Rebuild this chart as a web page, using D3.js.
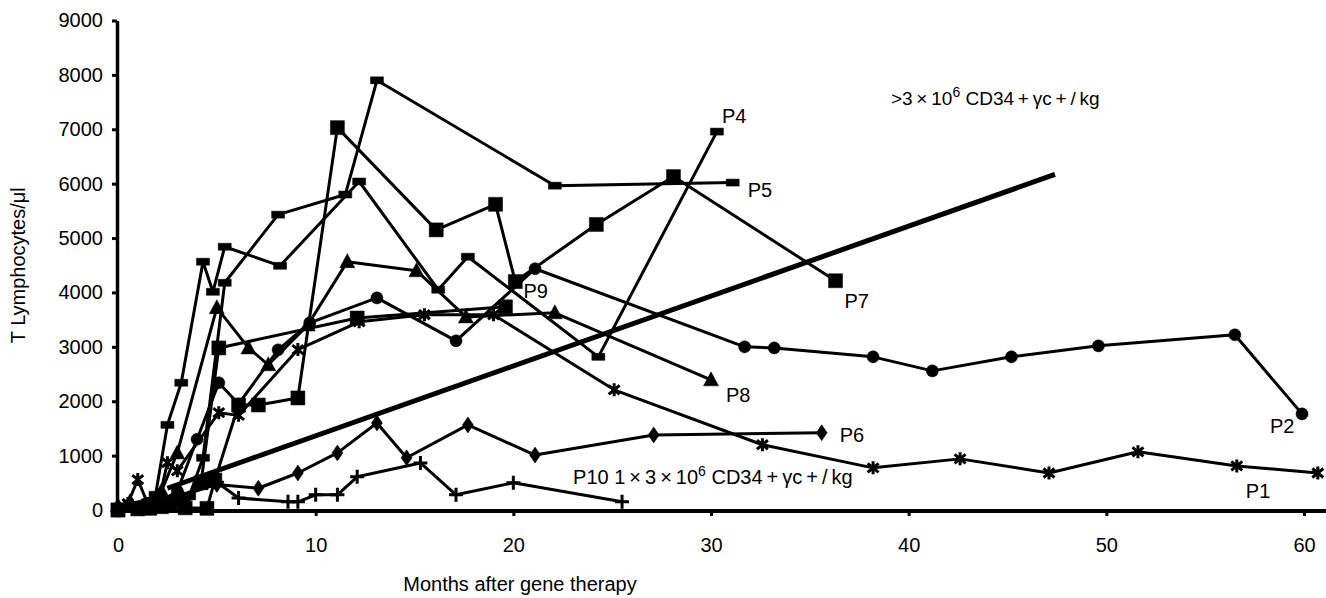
<!DOCTYPE html>
<html lang="en">
<head>
<meta charset="UTF-8">
<title>T lymphocytes after gene therapy</title>
<script src="https://d3js.org/d3.v7.min.js"></script>
<style>
  body { margin: 0; background: #fff; }
  svg text { font-family: "Liberation Sans", Arial, sans-serif; fill: #000; }
</style>
</head>
<body>
<script>
// [months after gene therapy, T lymphocytes / µl]
const p1 = [[0,30],[0.5,120],[1.0,560],[1.5,120],[2.0,60],[2.5,870],[3.0,720],[5.1,1790],[6.1,1740],[9.1,2950],[12.2,3460],[15.5,3590],[19.0,3590],[25.1,2210],[32.6,1200],[38.2,775],[42.6,940],[47.1,680],[51.6,1070],[56.6,810],[60.7,680]]
const p2 = [[0,20],[1.0,60],[2.0,120],[3.0,350],[4.0,1300],[5.1,2340],[6.1,1950],[8.1,2945],[9.7,3440],[13.1,3900],[17.1,3110],[21.1,4436],[31.7,3000],[33.2,2980],[38.2,2816],[41.2,2558],[45.2,2816],[49.6,3018],[56.5,3221],[59.9,1767]]
const p4 = [[0,40],[1.0,80],[1.9,280],[2.5,1565],[3.2,2340],[4.3,4565],[4.8,4012],[5.4,4840],[8.2,4490],[12.2,6040],[16.2,4050],[17.7,4657],[24.3,2816],[30.3,6957]]
const p5 = [[0,10],[1.5,40],[2.8,120],[3.6,250],[4.3,960],[5.4,4178],[8.1,5430],[11.5,5800],[13.1,7900],[22.1,5963],[31.1,6020]]
const p6 = [[0,10],[1.2,60],[2.2,150],[3.2,260],[5.0,470],[7.1,400],[9.1,680],[11.1,1050],[13.1,1600],[14.6,960],[17.7,1565],[21.1,1010],[27.1,1380],[35.6,1420]]
const p7 = [[0,0],[1.6,30],[2.6,90],[3.4,40],[4.5,30],[4.9,550],[6.1,1930],[7.1,1930],[9.1,2060],[11.1,7030],[16.1,5150],[19.1,5620],[20.1,4200],[24.2,5250],[28.1,6130],[36.3,4215]]
const p8 = [[0,80],[0.6,150],[1.4,100],[2.2,350],[3.0,1050],[5.0,3720],[6.6,2980],[7.6,2670],[9.6,3400],[11.6,4566],[15.1,4400],[17.6,3550],[22.1,3626],[30.0,2393]]
const p9 = [[0,0],[1.0,20],[2.2,60],[3.3,150],[4.2,500],[5.1,2980],[12.1,3530],[19.6,3736]]
const p10 = [[0,30],[1.1,50],[2.0,120],[3.0,250],[5.0,510],[6.1,220],[8.6,150],[9.1,150],[10.0,280],[11.1,280],[12.1,610],[15.3,865],[17.1,280],[20.0,500],[25.5,150]]

// the bold straight line
const trend = [[2.5,400],[47.4,6170]]

const seriesNames = ["P1", "P2", "P4", "P5", "P6", "P7", "P8", "P9", "P10"]
const seriesData = [p1, p2, p4, p5, p6, p7, p8, p9, p10]
const seriesMarkers = ["star", "circle", "dash", "dash", "diamond", "square", "triangle", "square", "plus"]

const xTicks = [0, 10, 20, 30, 40, 50, 60]
const yTicks = [0, 1000, 2000, 3000, 4000, 5000, 6000, 7000, 8000, 9000]

// where each patient label sits relative to its last point (px)
const labelOffset = {
    P1: [-72, 25], P2: [-32, 19], P4: [5, -9], P5: [15, 14], P6: [18, 9],
    P7: [9, 27], P8: [15, 22], P9: [18, -9], P10: [-49, -18]
}

const width = 1326
const height = 598

const svg = d3.select("body")
    .append("svg")
    .attr("width", width)
    .attr("height", height)

const x = d3.scaleLinear().domain([0, 60]).range([118, 1304])
const y = d3.scaleLinear().domain([0, 9000]).range([510, 20.5])

// axes
const yAxis = svg.append("g")
    .attr("transform", `translate(${x(0) - 1}, 0)`)
    .call(d3.axisLeft(y).tickValues(yTicks).tickFormat(d3.format("d"))
        .tickSize(5).tickPadding(9).tickSizeOuter(0))
yAxis.select(".domain").attr("stroke-width", 3.5)
yAxis.selectAll(".tick line").attr("stroke-width", 3)
yAxis.selectAll("text").style("font-size", "20px")

const xAxis = svg.append("g")
    .attr("transform", `translate(0, ${y(0) + 1})`)
    .call(d3.axisBottom(x).tickValues(xTicks).tickSize(5).tickPadding(22).tickSizeOuter(0))
xAxis.select(".domain").remove()
xAxis.selectAll(".tick line").attr("stroke-width", 3)
xAxis.selectAll("text").style("font-size", "20px")
xAxis.append("line")
    .attr("x1", x(0) - 2.5)
    .attr("x2", width)
    .attr("stroke", "black")
    .attr("stroke-width", 4)

svg.append("text")
    .attr("transform", `translate(25, ${(y(0) + y(9000)) / 2}) rotate(-90)`)
    .attr("text-anchor", "middle")
    .style("font-size", "20px")
    .text("T Lymphocytes/\u03bcl")

svg.append("text")
    .attr("x", 520)
    .attr("y", 591)
    .attr("text-anchor", "middle")
    .style("font-size", "20px")
    .text("Months after gene therapy")

// lines
const line = d3.line().x(d => x(d[0])).y(d => y(d[1]))

svg.append("path")
    .datum(trend)
    .attr("d", line)
    .attr("fill", "none")
    .attr("stroke", "black")
    .attr("stroke-width", 5)

const markerPath = {
    square: "M-7,-7h14v14h-14Z",
    dash: "M-6.5,-3.5h13v7h-13Z",
    circle: d3.symbol(d3.symbolCircle, 115)(),
    triangle: "M0,-8L7.5,6L-7.5,6Z",
    diamond: "M0,-8L5.5,0L0,8L-5.5,0Z",
    star: "M0,-6.5V6.5M-5.5,-4.5L5.5,4.5M-5.5,4.5L5.5,-4.5",
    plus: "M0,-7V7M-7,0H7"
}
const stroked = { star: true, plus: true }

seriesData.forEach((data, i) => {
    const g = svg.append("g").attr("class", "series")
    const m = seriesMarkers[i]

    g.append("path")
        .datum(data)
        .attr("d", line)
        .attr("fill", "none")
        .attr("stroke", "black")
        .attr("stroke-width", 3)
        .attr("stroke-linejoin", "round")

    g.selectAll(".mark")
        .data(data)
        .join("path")
        .attr("class", "mark")
        .attr("transform", d => `translate(${x(d[0])}, ${y(d[1])})`)
        .attr("d", markerPath[m])
        .attr("fill", stroked[m] ? "none" : "black")
        .attr("stroke", "black")
        .attr("stroke-width", stroked[m] ? 3 : 0.5)

    const last = data[data.length - 1]
    const off = labelOffset[seriesNames[i]]
    g.append("text")
        .attr("x", x(last[0]) + off[0])
        .attr("y", y(last[1]) + off[1])
        .style("font-size", "20px")
        .text(seriesNames[i])
})

// dose annotations
function doseText(sel, prefix) {
    sel.append("tspan").text(prefix + "3\u2009\u00d7\u200910")
    sel.append("tspan").attr("dy", -8).style("font-size", "14px").text("6")
    sel.append("tspan").attr("dy", 8).text(" CD34\u2009+\u2009\u03b3c\u2009+\u2009/\u2009kg")
}

const highDose = svg.append("text")
    .attr("x", x(39.1))
    .attr("y", y(7440))
    .style("font-size", "19px")
doseText(highDose, ">")

const p10Label = svg.select(".series:last-of-type text")
p10Label.text("P10 ")
doseText(p10Label, "1\u2009\u00d7\u2009")
</script>
</body>
</html>
